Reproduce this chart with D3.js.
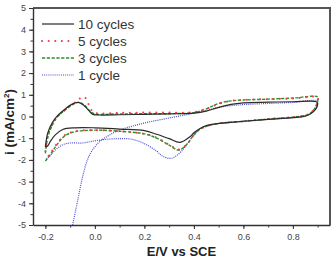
<!DOCTYPE html>
<html>
<head>
<meta charset="utf-8">
<script src="https://cdn.jsdelivr.net/npm/d3@7"></script>
<style>
  body { margin: 0; background: #fff; }
  svg { display: block; }
</style>
</head>
<body>
<div id="chart"></div>
<script>
// Potential (V vs SCE) and current (mA/cm2), anodic sweep then cathodic sweep
var cycles10E = [-0.2, -0.19, -0.17, -0.15, -0.12, -0.09, -0.067, -0.045, -0.025, -0.008, 0.02, 0.1, 0.2, 0.3, 0.4, 0.45, 0.5, 0.55, 0.6, 0.7, 0.8, 0.895,
                 0.9, 0.89, 0.87, 0.85, 0.8, 0.7, 0.6, 0.5, 0.45, 0.425, 0.4, 0.384, 0.344, 0.3, 0.25, 0.2, 0.1, 0.0, -0.08, -0.13, -0.16, -0.18, -0.19, -0.2];
var cycles10I = [-1.4, -0.75, -0.25, 0.05, 0.35, 0.58, 0.65, 0.52, 0.28, 0.1, 0.07, 0.08, 0.1, 0.12, 0.16, 0.25, 0.42, 0.56, 0.63, 0.66, 0.68, 0.68,
                 0.6, 0.3, 0.12, 0.02, -0.05, -0.13, -0.22, -0.32, -0.42, -0.55, -0.75, -0.93, -1.19, -1.02, -0.82, -0.65, -0.58, -0.52, -0.52, -0.6, -0.85, -1.15, -1.35, -1.4];

var cycles5E = [-0.2, -0.19, -0.17, -0.15, -0.12, -0.09, -0.07, -0.055, -0.04, -0.025, -0.01, 0.01, 0.1, 0.2, 0.3, 0.4, 0.45, 0.5, 0.55, 0.6, 0.7, 0.8, 0.9,
                0.9, 0.89, 0.87, 0.85, 0.8, 0.7, 0.6, 0.5, 0.45, 0.42, 0.4, 0.37, 0.34, 0.3, 0.25, 0.2, 0.1, 0.0, -0.08, -0.12, -0.15, -0.18, -0.2];
var cycles5I = [-1.6, -0.9, -0.3, 0.0, 0.3, 0.58, 0.72, 0.88, 0.88, 0.55, 0.25, 0.15, 0.17, 0.18, 0.18, 0.2, 0.35, 0.58, 0.72, 0.77, 0.8, 0.83, 0.88,
                0.7, 0.4, 0.15, 0.05, -0.03, -0.12, -0.22, -0.32, -0.45, -0.62, -0.85, -1.3, -1.52, -1.3, -0.98, -0.8, -0.68, -0.63, -0.68, -0.85, -1.2, -1.7, -2.0];

var cycles3E = [-0.2, -0.19, -0.17, -0.15, -0.12, -0.09, -0.065, -0.04, -0.02, 0.0, 0.1, 0.2, 0.3, 0.4, 0.45, 0.5, 0.55, 0.6, 0.7, 0.8, 0.9,
                0.9, 0.89, 0.87, 0.85, 0.8, 0.7, 0.6, 0.5, 0.45, 0.42, 0.4, 0.37, 0.34, 0.3, 0.25, 0.2, 0.1, 0.0, -0.08, -0.12, -0.15, -0.18, -0.2];
var cycles3I = [-1.7, -0.95, -0.35, 0.0, 0.3, 0.55, 0.65, 0.5, 0.25, 0.12, 0.12, 0.13, 0.13, 0.18, 0.35, 0.6, 0.72, 0.76, 0.8, 0.85, 0.9,
                0.72, 0.4, 0.15, 0.05, -0.03, -0.12, -0.22, -0.32, -0.45, -0.62, -0.85, -1.3, -1.55, -1.32, -1.0, -0.8, -0.68, -0.63, -0.7, -0.88, -1.25, -1.75, -2.05];

var cycles1E = [-0.09, -0.07, -0.05, -0.03, -0.01, 0.02, 0.06, 0.1, 0.15, 0.2, 0.3, 0.4, 0.45, 0.5, 0.55, 0.6, 0.7, 0.8, 0.9,
                0.9, 0.89, 0.87, 0.85, 0.8, 0.7, 0.6, 0.5, 0.45, 0.42, 0.4, 0.38, 0.35, 0.32, 0.3, 0.27, 0.25, 0.2, 0.15, 0.1, 0.05, 0.0, -0.05, -0.1, -0.13, -0.16, -0.18, -0.2];
var cycles1I = [-5, -3.9, -2.8, -2.0, -1.55, -1.15, -0.85, -0.62, -0.45, -0.3, -0.07, 0.15, 0.28, 0.42, 0.5, 0.55, 0.6, 0.65, 0.72,
                0.6, 0.35, 0.12, 0.03, -0.05, -0.13, -0.23, -0.33, -0.45, -0.62, -0.85, -1.15, -1.6, -1.88, -1.93, -1.8, -1.6, -1.25, -1.05, -1.02, -1.05, -1.12, -1.22, -1.22, -1.3, -1.55, -1.8, -2.0];

var seriesNames = ["10 cycles", "5 cycles", "3 cycles", "1 cycle"];
var xTicks = [-0.2, 0.0, 0.2, 0.4, 0.6, 0.8];
var yTicks = [-5, -4, -3, -2, -1, 0, 1, 2, 3, 4, 5];

var attrs = {
  svgWidth: 336,
  svgHeight: 257,
  marginTop: 8,
  marginLeft: 33,
  marginRight: 6,
  marginBottom: 32,
  font: 'Liberation Sans, Arial, sans-serif'
};

var styles = [
  { color: '#2b2b2b', dash: null, width: 1.2, cap: 'butt' },
  { color: '#e8413e', dash: '0.1 6.5', width: 2, cap: 'round' },
  { color: '#2f8f2f', dash: '3.2 1.6', width: 1.4, cap: 'butt' },
  { color: '#4a4ad8', dash: '1 1.1', width: 1.2, cap: 'butt' }
];

var series = [
  { name: seriesNames[0], E: cycles10E, I: cycles10I },
  { name: seriesNames[1], E: cycles5E, I: cycles5I },
  { name: seriesNames[2], E: cycles3E, I: cycles3I },
  { name: seriesNames[3], E: cycles1E, I: cycles1I }
];

var w = attrs.svgWidth - attrs.marginLeft - attrs.marginRight;
var h = attrs.svgHeight - attrs.marginTop - attrs.marginBottom;

var svg = d3.select('#chart').append('svg')
  .attr('width', attrs.svgWidth)
  .attr('height', attrs.svgHeight)
  .attr('font-family', attrs.font);

var chart = svg.append('g')
  .attr('transform', 'translate(' + attrs.marginLeft + ',' + attrs.marginTop + ')');

var x = d3.scaleLinear().domain([-0.25, 0.95]).range([0, w]);
var y = d3.scaleLinear().domain([-5, 5]).range([h, 0]);

// frame: top and right are heavier grey lines
chart.append('line').attr('x1', 0).attr('x2', w).attr('y1', 0).attr('y2', 0)
  .attr('stroke', '#555').attr('stroke-width', 2);
chart.append('line').attr('x1', w).attr('x2', w).attr('y1', -1).attr('y2', h)
  .attr('stroke', '#555').attr('stroke-width', 2);

// minor ticks
var xMinor = d3.range(-0.2, 0.95, 0.1).map(function(d) { return Math.round(d * 10) / 10; });
var yMinor = d3.range(-5, 5.01, 0.5);

chart.append('g')
  .attr('transform', 'translate(0,' + h + ')')
  .call(d3.axisBottom(x).tickValues(xMinor).tickSize(2.5).tickFormat(''))
  .call(function(g) { g.select('.domain').remove(); g.selectAll('line').attr('stroke', '#333'); });

chart.append('g')
  .call(d3.axisLeft(y).tickValues(yMinor).tickSize(2.5).tickFormat(''))
  .call(function(g) { g.select('.domain').remove(); g.selectAll('line').attr('stroke', '#333'); });

// major axes
var xAxis = chart.append('g')
  .attr('transform', 'translate(0,' + h + ')')
  .call(d3.axisBottom(x).tickValues(xTicks).tickSize(4).tickSizeOuter(0).tickPadding(5).tickFormat(d3.format('.1f')));

var yAxis = chart.append('g')
  .call(d3.axisLeft(y).tickValues(yTicks).tickSize(4).tickSizeOuter(0).tickPadding(3).tickFormat(d3.format('d')));

[xAxis, yAxis].forEach(function(g) {
  g.select('.domain').attr('stroke', '#333').attr('stroke-width', 1.4);
  g.selectAll('line').attr('stroke', '#333');
  g.selectAll('text').attr('font-size', 9).attr('fill', '#444').attr('font-family', attrs.font);
});
xAxis.selectAll('text').text(function(d) { return d3.format('.1f')(d).replace('−', '-'); });
yAxis.selectAll('text').text(function(d) { return String(d); });

// curves
var line = d3.line()
  .x(function(d) { return x(d[0]); })
  .y(function(d) { return y(d[1]); })
  .curve(d3.curveCatmullRom.alpha(0.5));

var plot = chart.append('g');
// draw back-to-front so the 10-cycle solid sits on top
[3, 2, 1, 0].forEach(function(k) {
  var s = series[k];
  var pts = s.E.map(function(e, i) { return [e, s.I[i]]; });
  plot.append('path')
    .attr('d', line(pts))
    .attr('fill', 'none')
    .attr('stroke', styles[k].color)
    .attr('stroke-width', styles[k].width)
    .attr('stroke-linecap', styles[k].cap)
    .attr('stroke-dasharray', styles[k].dash);
});

// legend
var legend = chart.append('g').attr('transform', 'translate(9,16)');
var rows = legend.selectAll('.row').data(series).enter().append('g')
  .attr('class', 'row')
  .attr('transform', function(d, i) { return 'translate(0,' + (i * 17) + ')'; });
rows.append('line')
  .attr('x1', 0).attr('x2', 32).attr('y1', 0).attr('y2', 0)
  .attr('stroke', function(d, i) { return styles[i].color; })
  .attr('stroke-width', function(d, i) { return styles[i].width; })
  .attr('stroke-linecap', function(d, i) { return styles[i].cap; })
  .attr('stroke-dasharray', function(d, i) { return styles[i].dash; });
rows.append('text')
  .attr('x', 36).attr('y', 0).attr('dy', '0.35em')
  .attr('font-size', 13.5).attr('fill', '#333')
  .text(function(d) { return d.name; });

// axis titles
svg.append('text')
  .attr('x', attrs.marginLeft + x(0.35)).attr('y', 255.5)
  .attr('text-anchor', 'middle').attr('font-size', 13).attr('font-weight', 'bold').attr('fill', '#222')
  .text('E/V vs SCE');

var yTitle = svg.append('text')
  .attr('transform', 'translate(14,' + (attrs.marginTop + y(-0.25)) + ') rotate(-90)')
  .attr('text-anchor', 'middle').attr('font-size', 13.5).attr('font-weight', 'bold').attr('fill', '#222');
yTitle.append('tspan').text('i (mA/cm');
yTitle.append('tspan').attr('font-size', 8).attr('dy', -5).text('2');
yTitle.append('tspan').attr('dy', 5).text(')');
</script>
</body>
</html>
